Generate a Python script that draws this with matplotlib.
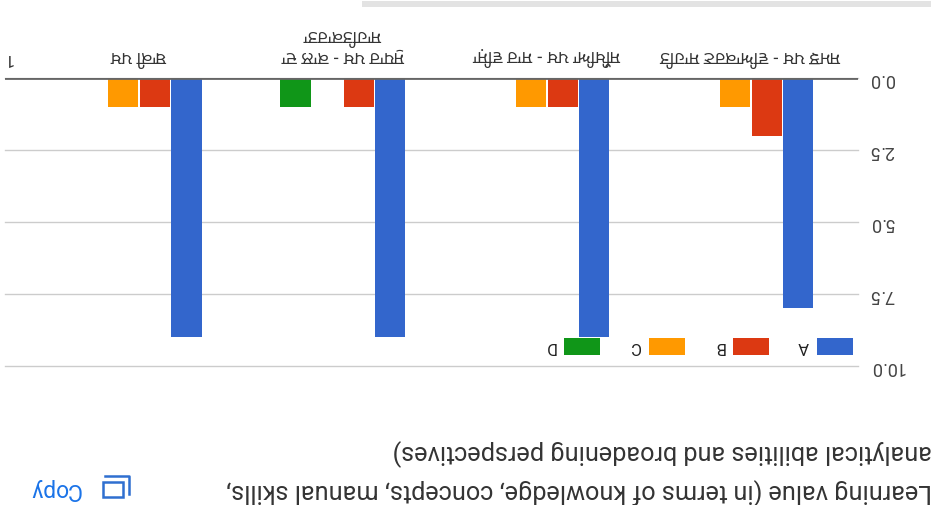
import matplotlib
matplotlib.use("Agg")
import matplotlib.pyplot as plt
from matplotlib.lines import Line2D
from matplotlib.patches import Rectangle

W, H = 936, 506

# Category names are a best reading of small, blurred, upside-down Gurmukhi:
# guessed from letter shapes and word widths, not confirmed wording
categories = ["ਸਮਝ ਪਖ - ਵਿਆਕਰਣ ਸਾਹਿਤ", "ਸਿੱਖਿਆ ਪਖ - ਸਾਰ ਵਿਸ਼ਾ", "ਸੁਧਾਰ ਪਖ - ਕਾਲ ਦਾ\nਸਾਹਿਤਕਾਰਤਾ", "ਬਾਕੀ ਪਖ"]
cut_label = "1"
series_names = ["A", "B", "C", "D"]
series_colors = ["#3366cc", "#dc3912", "#ff9900", "#109618"]
a_values = [8, 9, 9, 9]
b_values = [2, 1, 1, 1]
c_values = [1, 1, 0, 1]
d_values = [0, 0, 1, 0]
y_ticks = [0, 2.5, 5, 7.5, 10]
title_lines = ["Learning value (in terms of knowledge, concepts, manual skills,",
               "analytical abilities and broadening perspectives)"]

plt.rcParams['font.family'] = ['Roboto', 'DejaVu Sans']
label_fonts = ['Noto Sans Gurmukhi', 'Anek Gurmukhi', 'DejaVu Sans']


def fx(px):
    return px / W


def fy(py):
    return 1 - py / H


def line(xs, ys, color, lw):
    fig.add_artist(Line2D([fx(x) for x in xs], [fy(y) for y in ys], transform=fig.transFigure,
                          color=color, linewidth=lw))


fig = plt.figure(figsize=(W / 100, H / 100), dpi=100)
ax = fig.add_axes([fx(5), fy(367), fx(858 - 5), (367 - 79) / H])

# the whole screenshot is upside down, so the x axis runs right to left
values = [a_values, b_values, c_values, d_values]
for i, vals in enumerate(values):
    xs = [k + (i - 1.5) * 0.155 for k in range(len(categories))]
    ax.bar(xs, vals, width=0.148, color=series_colors[i], zorder=3)

ax.set_xlim(3.657, -0.525)
ax.set_ylim(10, 0)

ax.set_yticks(y_ticks)
ax.set_yticklabels(["%.1f" % t for t in y_ticks], rotation=180, color="#444444", fontsize=13,
                   ha="left", va="center")
ax.yaxis.tick_right()
ax.tick_params(axis="y", length=0, pad=8)
ax.grid(axis="y", color="#cccccc", linewidth=1, zorder=1, clip_on=False)
ax.set_axisbelow(True)
ax.xaxis.set_visible(False)
for s in ax.spines.values():
    s.set_visible(False)
ax.axhline(0, color="#666666", linewidth=2, zorder=4)

for k, name in enumerate(categories):
    ax.annotate(name, (k, 0), xytext=(0, 10), textcoords="offset points", rotation=180,
                ha="center", va="bottom", family=label_fonts, fontsize=12.8, color="#333333",
                linespacing=1.2, annotation_clip=False)
fig.text(fx(8), fy(58), cut_label, rotation=180, ha="center", va="center", fontsize=12,
         color="#333333")

# legend
swatch_right = [853, 769, 685, 600]
for name, color, right in zip(series_names, series_colors, swatch_right):
    fig.add_artist(Rectangle((fx(right - 36), fy(356)), 36 / W, 17 / H, transform=fig.transFigure,
                             facecolor=color, edgecolor="none", zorder=5))
    fig.text(fx(right - 50), fy(347), name, rotation=180, ha="center", va="center", fontsize=12,
             color="#222222", zorder=5)

# scroll bar at the far edge of the screenshot
fig.add_artist(Rectangle((fx(362), fy(8)), (931 - 362) / W, 6 / H, transform=fig.transFigure,
                         facecolor="#e3e3e3", edgecolor="none"))

# title
fig.text(fx(932), fy(491), title_lines[0], rotation=180, ha="right", va="center", fontsize=18.2,
         color="#333333")
fig.text(fx(932), fy(452), title_lines[1], rotation=180, ha="right", va="center", fontsize=18.2,
         color="#333333")

# copy button
fig.text(fx(55), fy(490), "Copy", rotation=180, ha="center", va="center", fontsize=16.5,
         color="#1a73e8")
fig.add_artist(Rectangle((fx(103), fy(498)), 20 / W, 15 / H, transform=fig.transFigure,
                         facecolor="none", edgecolor="#2f6fd0", linewidth=1.8))
line([105, 129, 129], [477, 477, 495], "#2f6fd0", 1.8)

fig.savefig("out.png", dpi=100)
